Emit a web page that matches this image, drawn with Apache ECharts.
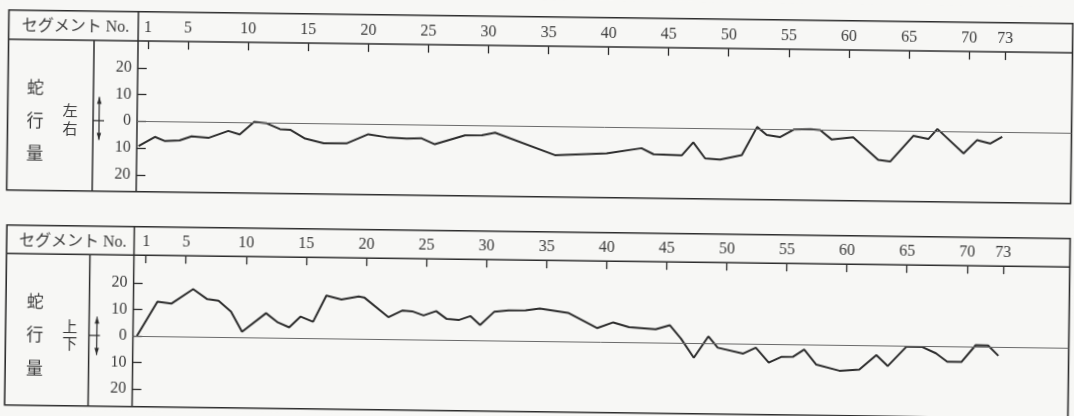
<!DOCTYPE html>
<html><head><meta charset="utf-8">
<script src="https://cdn.jsdelivr.net/npm/echarts@6/dist/echarts.min.js"></script>
<style>
html,body{margin:0;padding:0;background:#f7f7f5;overflow:hidden}
#c{width:1074px;height:416px;transform:rotate(0.73deg);transform-origin:537px 208px}
</style></head><body><div id="c"></div>
<script>
// 左右 (left/right) meander per segment: [segment position, amount]; right = negative
const segTop = [1, 2.35, 3.2, 4.4, 5.4, 6.8, 8.45, 9.4, 10.6, 11.65, 12.75, 13.6, 14.85, 16.4, 18.3, 20.1, 21.6, 23.3, 24.5, 25.65, 28.15, 29.55, 30.65, 35.65, 39.95, 42.85, 43.85, 46.2, 47.15, 48.15, 49.4, 51.2, 52.45, 53.25, 54.35, 55.5, 56.9, 57.7, 58.65, 60.45, 62.55, 63.55, 65.45, 66.7, 67.45, 69.65, 70.75, 71.85, 72.85];
const valTop = [-9.3, -5.8, -7.3, -7.0, -5.4, -5.9, -3.2, -4.5, 0.3, -0.2, -2.3, -2.5, -5.7, -7.4, -7.3, -3.8, -4.8, -5.2, -5.0, -7.2, -3.7, -3.6, -2.6, -10.7, -9.8, -7.7, -9.9, -10.2, -5.3, -11.2, -11.6, -9.8, 0.8, -2.1, -2.9, 0, 0.2, -0.1, -3.5, -2.6, -10.9, -11.5, -1.8, -2.9, 0.9, -8.1, -3.1, -4.3, -1.7];
// 上下 (up/down) meander; down = negative
const segBottom = [1, 2.67, 3.85, 5.63, 6.81, 7.75, 8.8, 9.74, 11.72, 12.71, 13.66, 14.6, 15.64, 16.72, 17.98, 19.41, 19.87, 21.9, 23.08, 23.88, 24.83, 25.87, 26.76, 27.8, 28.74, 29.54, 30.72, 31.9, 33.31, 34.49, 36.85, 39.3, 40.62, 41.94, 44.16, 45.34, 46.28, 47.36, 48.55, 49.34, 51.47, 52.51, 53.6, 54.63, 55.6, 56.54, 57.56, 59.49, 61.14, 62.55, 63.5, 65.05, 66.32, 67.51, 68.45, 69.63, 70.81, 71.84, 72.7];
const valBottom = [0, 13.0, 12.4, 17.9, 14.2, 13.7, 9.6, 2.1, 9.2, 5.8, 4.0, 8.1, 6.2, 16.1, 14.7, 15.9, 15.6, 8.3, 10.9, 10.6, 9.1, 10.8, 7.9, 7.6, 9.1, 5.8, 10.9, 11.4, 11.5, 12.3, 10.8, 5.2, 7.4, 5.7, 5.0, 6.6, 1.6, -5.5, 2.6, -1.6, -3.7, -1.4, -7.0, -4.8, -4.7, -1.9, -7.5, -9.7, -9.2, -3.6, -7.7, -0.3, -0.3, -2.7, -5.8, -5.8, 0.6, 0.5, -3.3];

const xTicks = [1, 5, 10, 15, 20, 25, 30, 35, 40, 45, 50, 55, 60, 65, 70, 73];
const yTicks = [-20, -10, 0, 10, 20];
const headerText = 'セグメント No.';
const sideText = ['蛇', '行', '量'];
const dirTop = ['左', '右'];
const dirBottom = ['上', '下'];

const TICK1_POS = 1.67; // the printed "1" tick sits a little right of segment 1
const xTickPos = xTicks.map(v => v === 1 ? TICK1_POS : v);

const INK = '#2d2d2d', TXT = '#3a3a3a', ZERO = '#6a6a6a';
const SERIF = '"Liberation Serif","DejaVu Serif","Noto Sans CJK JP",serif';
const CJK = '"Noto Sans CJK JP",sans-serif';

const P = [
  {L:6.5, T:16.8, H:46.1, B:196.8, R:1070.5, D:92, A:136, xmin:0.85, xmax:78.61, ymin:-26.36, ymax:29.98,
   side:[[34,93.4],[34,126.4],[34,159.4]], dir:dirTop, dirPos:[[69,116],[69,134]], arrow:{x:98, y1:102.6, y2:145.6, yc:126.3}, head:33},
  {L:7.2, T:231.8, H:260.2, B:411.8, R:1070.5, D:90.6, A:134.6, xmin:0.667, xmax:78.55, ymin:-26.6, ymax:30.44,
   side:[[36.5,308],[36.5,341],[36.5,375]], dir:dirBottom, dirPos:[[71.5,332.7],[71.5,349.3]], arrow:{x:98.5, y1:322.3, y2:360.6, yc:341.1}, head:248}
];

const grids = [], xAxes = [], yAxes = [], series = [], graphics = [];
const datasets = [[segTop, valTop], [segBottom, valBottom]];
P.forEach((p, i) => {
  grids.push({left:p.A, top:p.H, width:p.R - p.A, height:p.B - p.H, containLabel:false});
  xAxes.push({type:'value', gridIndex:i, position:'top', min:p.xmin, max:p.xmax,
    axisLine:{show:false, onZero:false}, splitLine:{show:false},
    axisTick:{show:true, inside:true, length:8, customValues:xTickPos, lineStyle:{color:INK, width:1.3}},
    axisLabel:{show:true, margin:5, customValues:xTickPos, formatter:v => String(v < 2 ? 1 : v),
      color:TXT, fontSize:16, fontFamily:SERIF}});
  yAxes.push({type:'value', gridIndex:i, min:p.ymin, max:p.ymax,
    axisLine:{show:false, onZero:false}, splitLine:{show:false},
    axisTick:{show:true, inside:true, length:9, customValues:yTicks, lineStyle:{color:INK, width:1.3}},
    axisLabel:{show:true, margin:6, customValues:yTicks, formatter:v => String(Math.abs(v)),
      color:TXT, fontSize:16, fontFamily:SERIF}});
  const [sx, sy] = datasets[i];
  series.push({type:'line', xAxisIndex:i, yAxisIndex:i, data:sx.map((s, k) => [s, sy[k]]),
    showSymbol:false, symbol:'none', silent:true, lineStyle:{color:INK, width:2},
    markLine:{silent:true, symbol:['none','none'], label:{show:false},
      lineStyle:{color:ZERO, width:1, type:'solid'}, data:[{yAxis:0}]}});

  const ls = {stroke:INK, lineWidth:1.5};
  graphics.push({type:'rect', shape:{x:p.L, y:p.T, width:p.R - p.L, height:p.B - p.T}, style:{fill:'none', stroke:INK, lineWidth:1.6}, silent:true});
  graphics.push({type:'line', shape:{x1:p.L, y1:p.H, x2:p.R, y2:p.H}, style:ls, silent:true});
  graphics.push({type:'line', shape:{x1:p.D, y1:p.H, x2:p.D, y2:p.B}, style:ls, silent:true});
  graphics.push({type:'line', shape:{x1:p.A, y1:p.T, x2:p.A, y2:p.B}, style:ls, silent:true});
  graphics.push({type:'text', x:127, y:p.head, silent:true,
    style:{text:headerText, fill:TXT, font:'16px ' + SERIF, align:'right', verticalAlign:'middle'}});
  sideText.forEach((t, k) => graphics.push({type:'text', x:p.side[k][0], y:p.side[k][1], silent:true,
    style:{text:t, fill:TXT, font:'17px ' + CJK, align:'center', verticalAlign:'middle'}}));
  p.dir.forEach((t, k) => graphics.push({type:'text', x:p.dirPos[k][0], y:p.dirPos[k][1], silent:true,
    style:{text:t, fill:TXT, font:'15px ' + CJK, align:'center', verticalAlign:'middle'}}));
  const a = p.arrow;
  graphics.push({type:'line', shape:{x1:a.x, y1:a.y1, x2:a.x, y2:a.y2}, style:{stroke:INK, lineWidth:1.2}, silent:true});
  graphics.push({type:'line', shape:{x1:p.D, y1:a.yc, x2:p.D + 11, y2:a.yc}, style:{stroke:INK, lineWidth:1.2}, silent:true});
  graphics.push({type:'polygon', shape:{points:[[a.x, a.y1],[a.x - 2.3, a.y1 + 7],[a.x + 2.3, a.y1 + 7]]}, style:{fill:INK}, silent:true});
  graphics.push({type:'polygon', shape:{points:[[a.x, a.y2],[a.x - 2.3, a.y2 - 7],[a.x + 2.3, a.y2 - 7]]}, style:{fill:INK}, silent:true});
});

const chart = echarts.init(document.getElementById('c'), null, {renderer:'canvas'});
chart.setOption({
  animation:false,
  backgroundColor:'#f7f7f5',
  grid:grids, xAxis:xAxes, yAxis:yAxes, series:series, graphic:graphics
});
</script></body></html>
